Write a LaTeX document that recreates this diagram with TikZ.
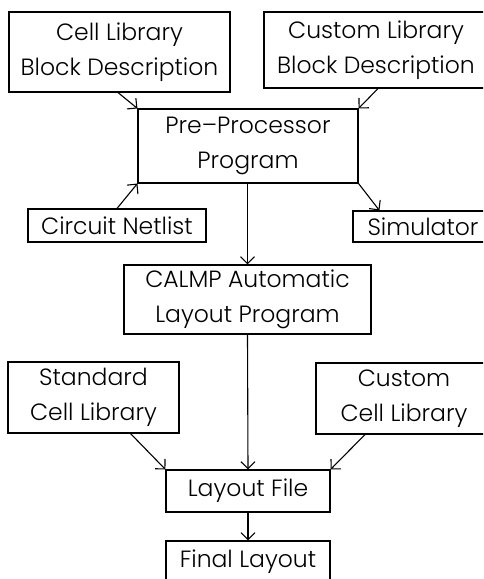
\documentclass[tikz,border=0pt]{standalone}
\usepackage{fontspec}
\setmainfont{Poppins Light}
\usetikzlibrary{arrows.meta}

\tikzset{
  blk/.style={draw, line width=1.1pt, align=center, inner sep=0pt,
    font=\fontsize{23.5}{34.5}\selectfont},
  arr/.style={line width=1.1pt, -{Straight Barb[length=7pt,width=14pt,line width=1.1pt]}},
  ln/.style={line width=1.1pt}
}

\begin{document}
\begin{tikzpicture}[x=1pt,y=-1pt]
  \useasboundingbox (0,0) rectangle (483,579);
  \clip (0,0) rectangle (483,579);

  % input descriptions
  \node[blk, minimum width=221pt, minimum height=80pt] (celllib) at (119.5,52) {Cell Library\\Block Description};
  \node[blk, minimum width=224pt, minimum height=76pt] (custlib) at (376,50) {Custom Library\\Block Description};

  % pre-processor and its side boxes
  \node[blk, minimum width=220pt, minimum height=74pt] (pre) at (248,146) {Pre--Processor\\Program};
  \node[blk, minimum width=178pt, minimum height=33pt] (netlist) at (117,225.5) {Circuit Netlist};
  \node[blk, minimum width=140pt, minimum height=31pt] (sim) at (423,226.5) {Simulator};

  % layout program
  \node[blk, minimum width=247pt, minimum height=69pt] (calmp) at (247.5,299.5) {CALMP Automatic\\Layout Program};

  % cell libraries
  \node[blk, minimum width=171pt, minimum height=71pt] (stdlib) at (93.5,397.5) {Standard\\Cell Library};
  \node[blk, minimum width=176pt, minimum height=71pt] (custcell) at (404,398.5) {Custom\\Cell Library};

  % outputs
  \node[blk, minimum width=164pt, minimum height=42pt] (layout) at (248,491) {Layout File};
  \node[blk, minimum width=164pt, minimum height=42pt] (final) at (248,562) {Final Layout};

  % connectors
  \draw[arr] ([xshift=-1.5pt]celllib.south) -- (pre.north west);
  \draw[arr] ([xshift=2pt]custlib.south) -- (pre.north east);
  \draw[arr] (netlist.north) -- (pre.south west);
  \draw[arr] (pre.south east) -- ([xshift=27pt]sim.north west);
  \draw[arr] ([xshift=-0.5pt]pre.south) -- (calmp.north);
  \draw[arr] (calmp.south) -- (layout.north);
  \draw[arr] ([xshift=37pt]stdlib.south) -- (layout.north west);
  \draw[arr] ([xshift=-39pt]custcell.south) -- (layout.north east);
  \draw[arr] (layout.south) -- (final.north);
\end{tikzpicture}
\end{document}
